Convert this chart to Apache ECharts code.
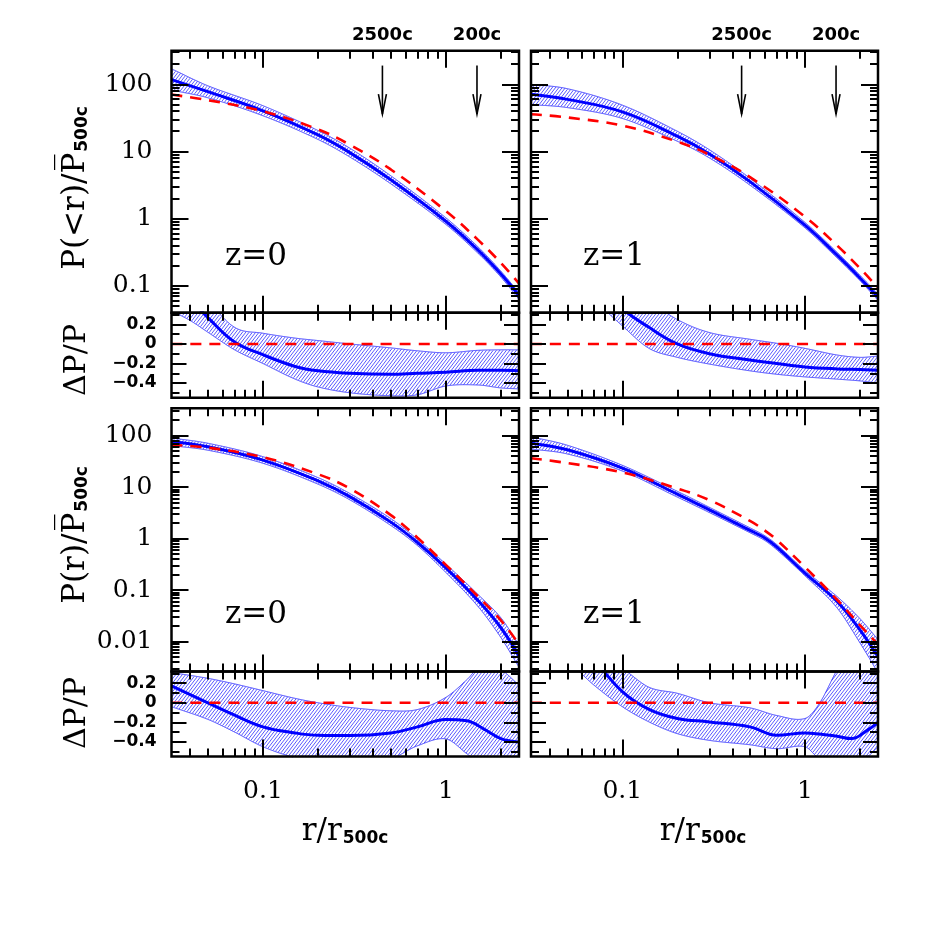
<!DOCTYPE html>
<html>
<head>
<meta charset="utf-8">
<script src="https://cdn.jsdelivr.net/npm/echarts@6.0.0/dist/echarts.min.js"></script>
<style>
html,body{margin:0;padding:0;background:#fff;}
#chart{width:926px;height:926px;}
</style>
</head>
<body>
<div id="chart"></div>
<script>
// ===== axis ranges =====
const xMin = 0.0316228, xMax = 2.51189;          // 10^-1.5 .. 10^0.4
const yTopMin = 0.0398107, yTopMax = 316.228;    // 10^-1.4 .. 10^2.5
const yBotMin = 0.0026303, yBotMax = 338.844;    // 10^-2.58 .. 10^2.53
const resMin = -0.55, resMax = 0.32;

// ===== tick values / labels =====
const xMajorTicks = [0.1, 1];
const xMinorTicks = [0.04, 0.05, 0.06, 0.07, 0.08, 0.09, 0.2, 0.3, 0.4, 0.5, 0.6, 0.7, 0.8, 0.9, 2];
const xTickLabels = [0.1, 1];
const yTopMajorTicks = [0.1, 1, 10, 100];
const yTopMinorTicks = [0.05, 0.06, 0.07, 0.08, 0.09, 0.2, 0.3, 0.4, 0.5, 0.6, 0.7, 0.8, 0.9,
  2, 3, 4, 5, 6, 7, 8, 9, 20, 30, 40, 50, 60, 70, 80, 90, 200, 300];
const yTopTickLabels = [0.1, 1, 10, 100];
const yBotMajorTicks = [0.01, 0.1, 1, 10, 100];
const yBotMinorTicks = [0.003, 0.004, 0.005, 0.006, 0.007, 0.008, 0.009,
  0.02, 0.03, 0.04, 0.05, 0.06, 0.07, 0.08, 0.09, 0.2, 0.3, 0.4, 0.5, 0.6, 0.7, 0.8, 0.9,
  2, 3, 4, 5, 6, 7, 8, 9, 20, 30, 40, 50, 60, 70, 80, 90, 200, 300];
const yBotTickLabels = [0.01, 0.1, 1, 10, 100];
const resMajorTicks = [-0.4, -0.2, 0, 0.2];
const resMinorTicks = [-0.5, -0.3, -0.1, 0.1, 0.3];
const resTickLabels = [-0.4, -0.2, 0, 0.2];

// ===== top-left: P(<r), z=0 =====
const tlR   = [0.0316, 0.05, 0.1, 0.2, 0.3, 0.5, 1, 1.5, 2, 2.51];
const tlSim = [117.5, 77.6, 40.3, 17.6, 9.53, 3.79, 0.916, 0.34, 0.15, 0.072];
const tlHi  = [170, 95, 48, 20.5, 11.1, 4.35, 1.03, 0.38, 0.165, 0.079];
const tlLo  = [82, 63, 34, 15.1, 8.2, 3.3, 0.82, 0.305, 0.135, 0.063];
const tlMod = [70.3, 58, 39.6, 21.3, 12.5, 5.4, 1.30, 0.483, 0.219, 0.109];
// residual
const tlResR   = [0.0316, 0.04, 0.05, 0.07, 0.1, 0.15, 0.2, 0.3, 0.5, 0.7, 1, 1.5, 2, 2.51];
const tlResSim = [0.6, 0.45, 0.27, 0.02, -0.11, -0.23, -0.275, -0.30, -0.31, -0.30, -0.29, -0.27, -0.27, -0.275];
const tlResHi  = [0.9, 0.7, 0.45, 0.17, 0.11, 0.06, 0.035, 0.0, -0.04, -0.07, -0.09, -0.065, -0.06, -0.06];
const tlResLo  = [0.34, 0.24, 0.12, -0.06, -0.2, -0.36, -0.44, -0.50, -0.53, -0.52, -0.43, -0.42, -0.45, -0.46];

// ===== top-right: P(<r), z=1 =====
const trR   = [0.0316, 0.05, 0.1, 0.2, 0.3, 0.5, 1, 1.5, 2, 2.51];
const trSim = [71, 59.6, 38.8, 16.9, 9.2, 3.56, 0.80, 0.286, 0.131, 0.068];
const trHi  = [100, 86, 49, 20, 10.6, 4.0, 0.88, 0.315, 0.144, 0.075];
const trLo  = [50, 45, 31, 14.2, 8.0, 3.15, 0.73, 0.26, 0.12, 0.061];
const trMod = [35.8, 32.1, 24.3, 14.0, 8.93, 4.15, 1.07, 0.398, 0.183, 0.093];
const trResR   = [0.0316, 0.05, 0.07, 0.1, 0.14, 0.2, 0.3, 0.5, 0.7, 1, 1.5, 2, 2.51];
const trResSim = [1.4, 1.0, 0.65, 0.36, 0.17, 0.0, -0.10, -0.165, -0.20, -0.235, -0.255, -0.262, -0.268];
const trResHi  = [1.6, 1.3, 1.0, 0.7, 0.45, 0.25, 0.117, 0.048, 0.007, -0.045, -0.113, -0.137, -0.124];
const trResLo  = [1.0, 0.7, 0.45, 0.186, -0.045, -0.137, -0.206, -0.275, -0.31, -0.337, -0.36, -0.378, -0.40];

// ===== bottom-left: P(r), z=0 =====
const blR   = [0.0316, 0.05, 0.1, 0.2, 0.3, 0.5, 0.7, 1, 1.5, 2, 2.51];
const blSim = [76, 60.7, 33.5, 13.2, 6.46, 2.09, 0.84, 0.27, 0.0625, 0.0186, 0.0052];
const blHi  = [90, 71, 39, 15.3, 7.45, 2.45, 0.97, 0.32, 0.082, 0.029, 0.0087];
const blLo  = [64, 52, 29, 11.4, 5.6, 1.8, 0.73, 0.22, 0.048, 0.012, 0.0032];
const blMod = [66, 58.3, 38, 17.8, 9.3, 2.86, 1.04, 0.31, 0.075, 0.0258, 0.0089];
const blResR   = [0.0316, 0.05, 0.07, 0.1, 0.15, 0.2, 0.3, 0.5, 0.7, 1, 1.3, 1.6, 2, 2.51];
const blResSim = [0.172, 0.0, -0.127, -0.247, -0.309, -0.333, -0.336, -0.309, -0.247, -0.172, -0.185, -0.264, -0.367, -0.402];
const blResHi  = [0.31, 0.25, 0.193, 0.124, 0.045, 0.0, -0.048, -0.082, -0.069, 0.055, 0.234, 0.4, 0.34, 0.18];
const blResLo  = [-0.04, -0.17, -0.30, -0.45, -0.56, -0.58, -0.60, -0.57, -0.44, -0.37, -0.52, -0.65, -0.7, -0.7];

// ===== bottom-right: P(r), z=1 =====
const brR   = [0.0316, 0.05, 0.1, 0.2, 0.3, 0.5, 0.6, 0.7, 1, 1.5, 2, 2.51];
const brSim = [71, 53, 23.3, 7.3, 3.6, 1.45, 1.04, 0.69, 0.213, 0.06, 0.0169, 0.0051];
const brHi  = [95, 65, 26.5, 8.3, 4.05, 1.62, 1.15, 0.77, 0.24, 0.075, 0.028, 0.011];
const brLo  = [55, 44, 20.5, 6.4, 3.2, 1.3, 0.93, 0.61, 0.19, 0.045, 0.0095, 0.0025];
const brMod = [36.4, 29.3, 19.2, 9.4, 5.6, 2.2, 1.45, 0.95, 0.28, 0.065, 0.021, 0.0088];
const brResR   = [0.0316, 0.05, 0.07, 0.1, 0.14, 0.2, 0.3, 0.5, 0.7, 1, 1.2, 1.5, 1.8, 2.2, 2.51];
const brResSim = [1.2, 0.8, 0.45, 0.113, -0.068, -0.161, -0.196, -0.247, -0.333, -0.309, -0.32, -0.343, -0.367, -0.28, -0.2];
const brResHi  = [0.9, 0.7, 0.5, 0.35, 0.159, 0.097, 0.0, -0.052, -0.13, -0.161, -0.007, 0.34, 0.6, 0.6, 0.6];
const brResLo  = [0.6, 0.42, 0.18, -0.04, -0.196, -0.316, -0.385, -0.43, -0.47, -0.45, -0.57, -0.6, -0.6, -0.55, -0.45];

// residual reference line
const resZeroR = [0.0316228, 2.51189];
const resZero  = [0, 0];

// overdensity radius markers
const arrowR      = [0.45, 1.48];
const arrowTop    = [190, 190];
const arrowBottom = [36, 36];
const arrowText   = ['2500c', '200c'];

// ===== helpers =====
const zip = (a, b) => a.map((v, i) => [v, b[i]]);
const fmtLog = v => String(v);
const fmtRes = v => (v < 0 ? '\u2212' + String(Math.abs(v)) : String(v));

// cubic Hermite (Catmull-Rom tangents) through pixel-space points, used only to draw the band outline smoothly
function hermite(xs, ys) {
  const n = xs.length, m = [];
  for (let i = 0; i < n; i++) {
    if (i === 0) m.push((ys[1] - ys[0]) / (xs[1] - xs[0]));
    else if (i === n - 1) m.push((ys[n - 1] - ys[n - 2]) / (xs[n - 1] - xs[n - 2]));
    else m.push((ys[i + 1] - ys[i - 1]) / (xs[i + 1] - xs[i - 1]));
  }
  return function (x) {
    if (x <= xs[0]) return ys[0] + m[0] * (x - xs[0]);
    if (x >= xs[n - 1]) return ys[n - 1] + m[n - 1] * (x - xs[n - 1]);
    let i = 0;
    while (i < n - 2 && x > xs[i + 1]) i++;
    const h = xs[i + 1] - xs[i], t = (x - xs[i]) / h;
    const t2 = t * t, t3 = t2 * t;
    return (2 * t3 - 3 * t2 + 1) * ys[i] + (t3 - 2 * t2 + t) * h * m[i] +
      (-2 * t3 + 3 * t2) * ys[i + 1] + (t3 - t2) * h * m[i + 1];
  };
}

const HATCH_COLOR = 'rgba(35,35,255,0.9)';
const EDGE_COLOR = '#3b3bff';
function bandRenderer(p) {
  return function (params, api) {
    if (params.dataIndex !== 0) return null;
    const cs = params.coordSys;
    const xs = [], yl = [], yh = [];
    for (let i = 0; i < p.r.length; i++) {
      const a = api.coord([p.r[i], p.lo[i]]);
      const b = api.coord([p.r[i], p.hi[i]]);
      xs.push(a[0]); yl.push(a[1]); yh.push(b[1]);
    }
    const fLo = hermite(xs, yl), fHi = hermite(xs, yh);
    const step = 0.5, top = cs.y, bot = cs.y + cs.height;
    const sx = [], sLo = [], sHi = [];
    for (let x = cs.x; x <= cs.x + cs.width + 1e-6; x += step) {
      sx.push(x); sLo.push(fLo(x)); sHi.push(fHi(x));
    }
    const children = [];
    // hatch lines "/" : y = c - k (x - x0)
    const k = 1.3, gap = 4.3;
    for (let c = top; c <= bot + k * cs.width + gap; c += gap) {
      let start = -1;
      for (let j = 0; j <= sx.length; j++) {
        let inside = false;
        if (j < sx.length) {
          const y = c - k * (sx[j] - cs.x);
          inside = y >= Math.max(sHi[j], top) && y <= Math.min(sLo[j], bot);
        }
        if (inside && start < 0) start = j;
        if (!inside && start >= 0) {
          const e = j - 1;
          children.push({ type: 'line', silent: true,
            shape: { x1: sx[start], y1: c - k * (sx[start] - cs.x), x2: sx[e], y2: c - k * (sx[e] - cs.x) },
            style: { stroke: HATCH_COLOR, lineWidth: 0.85 } });
          start = -1;
        }
      }
    }
    // band edges, clipped to the panel
    [sHi, sLo].forEach(arr => {
      let pts = [];
      for (let j = 0; j <= sx.length; j++) {
        const ok = j < sx.length && arr[j] >= top - 0.5 && arr[j] <= bot + 0.5;
        if (ok) pts.push([sx[j], arr[j]]);
        else if (pts.length) {
          if (pts.length > 1) children.push({ type: 'polyline', silent: true, shape: { points: pts },
            style: { stroke: EDGE_COLOR, lineWidth: 1, fill: null } });
          pts = [];
        }
      }
    });
    return { type: 'group', children: children };
  };
}

const serifLbl = { fontFamily: 'DejaVu Serif', fontSize: 25, color: '#000' };
const resLbl = { fontFamily: 'DejaVu Sans', fontWeight: 'bold', fontSize: 17, color: '#000' };

const colL = { left: 171.5, width: 347.5 };
const colR = { left: 531, width: 347 };
const rowTop = { top: 50.7, height: 262 };
const rowTopRes = { top: 312.7, height: 85 };
const rowBot = { top: 408.3, height: 263.2 };
const rowBotRes = { top: 671.5, height: 85 };

const panels = [
  { col: colL, row: rowTop, kind: 'top', r: tlR, sim: tlSim, lo: tlLo, hi: tlHi, modR: tlR, mod: tlMod, ylab: true, xlab: false, arrows: true },
  { col: colL, row: rowTopRes, kind: 'res', r: tlResR, sim: tlResSim, lo: tlResLo, hi: tlResHi, modR: resZeroR, mod: resZero, ylab: true, xlab: false },
  { col: colR, row: rowTop, kind: 'top', r: trR, sim: trSim, lo: trLo, hi: trHi, modR: trR, mod: trMod, ylab: false, xlab: false, arrows: true },
  { col: colR, row: rowTopRes, kind: 'res', r: trResR, sim: trResSim, lo: trResLo, hi: trResHi, modR: resZeroR, mod: resZero, ylab: false, xlab: false },
  { col: colL, row: rowBot, kind: 'bot', r: blR, sim: blSim, lo: blLo, hi: blHi, modR: blR, mod: blMod, ylab: true, xlab: false },
  { col: colL, row: rowBotRes, kind: 'res', r: blResR, sim: blResSim, lo: blResLo, hi: blResHi, modR: resZeroR, mod: resZero, ylab: true, xlab: true },
  { col: colR, row: rowBot, kind: 'bot', r: brR, sim: brSim, lo: brLo, hi: brHi, modR: brR, mod: brMod, ylab: false, xlab: false },
  { col: colR, row: rowBotRes, kind: 'res', r: brResR, sim: brResSim, lo: brResLo, hi: brResHi, modR: resZeroR, mod: resZero, ylab: false, xlab: true }
];

const grid = [], xAxis = [], yAxis = [], series = [];

function xAx(g, pos, ticks, len, labels) {
  return {
    type: 'log', logBase: 10, gridIndex: g, position: pos, min: xMin, max: xMax, z: 10,
    axisLine: { show: false, onZero: false },
    axisTick: { show: true, inside: true, length: len, customValues: ticks, lineStyle: { color: '#000', width: 2 } },
    axisLabel: labels ? Object.assign({ show: true, customValues: labels, formatter: fmtLog, margin: 22 }, serifLbl) : { show: false },
    splitLine: { show: false }, minorTick: { show: false }
  };
}
function yAx(g, pos, p, ticks, len, labels) {
  const isRes = p.kind === 'res';
  const ax = {
    type: isRes ? 'value' : 'log', gridIndex: g, position: pos, z: 10,
    axisLine: { show: false, onZero: false },
    axisTick: { show: true, inside: true, length: len, customValues: ticks, lineStyle: { color: '#000', width: 2 } },
    axisLabel: { show: false },
    splitLine: { show: false }, minorTick: { show: false }
  };
  if (isRes) { ax.min = resMin; ax.max = resMax; }
  else { ax.logBase = 10; ax.min = p.kind === 'top' ? yTopMin : yBotMin; ax.max = p.kind === 'top' ? yTopMax : yBotMax; }
  if (labels) {
    ax.axisLabel = isRes
      ? Object.assign({ show: true, customValues: labels, formatter: fmtRes, margin: 15 }, resLbl)
      : Object.assign({ show: true, customValues: labels, formatter: fmtLog, margin: 19 }, serifLbl);
  }
  return ax;
}

panels.forEach((p, g) => {
  grid.push({ left: p.col.left, width: p.col.width, top: p.row.top, height: p.row.height, z: 10,
    show: true, borderColor: '#000', borderWidth: 2.5, backgroundColor: 'transparent' });
  const xi = g * 4, yi = g * 4;
  xAxis.push(xAx(g, 'bottom', xMajorTicks, 17, p.xlab ? xTickLabels : null));
  xAxis.push(xAx(g, 'bottom', xMinorTicks, 8, null));
  xAxis.push(xAx(g, 'top', xMajorTicks, 17, null));
  xAxis.push(xAx(g, 'top', xMinorTicks, 8, null));
  let maj, mnr, lab, lmaj, lmin;
  if (p.kind === 'res') { maj = resMajorTicks; mnr = resMinorTicks; lab = resTickLabels; lmaj = 15; lmin = 8; }
  else if (p.kind === 'top') { maj = yTopMajorTicks; mnr = yTopMinorTicks; lab = yTopTickLabels; lmaj = 17; lmin = 8; }
  else { maj = yBotMajorTicks; mnr = yBotMinorTicks; lab = yBotTickLabels; lmaj = 17; lmin = 8; }
  yAxis.push(yAx(g, 'left', p, maj, lmaj, p.ylab ? lab : null));
  yAxis.push(yAx(g, 'left', p, mnr, lmin, null));
  yAxis.push(yAx(g, 'right', p, maj, lmaj, null));
  yAxis.push(yAx(g, 'right', p, mnr, lmin, null));

  // hatched scatter band
  series.push({
    type: 'custom', xAxisIndex: xi, yAxisIndex: yi, silent: true, z: 2,
    data: p.r.map((r, i) => [r, p.lo[i], p.hi[i]]),
    renderItem: bandRenderer(p)
  });
  const common = { type: 'line', xAxisIndex: xi, yAxisIndex: yi, symbol: 'none', silent: true, smooth: 0.4 };
  series.push(Object.assign({}, common, {
    data: zip(p.r, p.sim), lineStyle: { color: '#0000ff', width: 3 }, z: 3
  }));
  series.push(Object.assign({}, common, {
    data: zip(p.modR, p.mod), lineStyle: { color: '#ff0000', width: 2.6, type: [11, 8] }, z: 4
  }));
  if (p.arrows) {
    series.push({
      type: 'custom', xAxisIndex: xi, yAxisIndex: yi, silent: true, z: 5,
      data: arrowR.map((r, i) => [r, arrowTop[i], arrowBottom[i]]),
      renderItem: function (params, api) {
        const t = api.coord([api.value(0), api.value(1)]);
        const b = api.coord([api.value(0), api.value(2)]);
        const cs = params.coordSys;
        return {
          type: 'group', children: [
            { type: 'line', shape: { x1: t[0], y1: t[1], x2: b[0], y2: b[1] }, style: { stroke: '#000', lineWidth: 1.6 } },
            { type: 'polyline', shape: { points: [[b[0] - 4, b[1] - 20], [b[0], b[1]], [b[0] + 4, b[1] - 20]] },
              style: { stroke: '#000', lineWidth: 1.6, fill: null } },
            { type: 'text', style: { text: arrowText[params.dataIndex], x: t[0], y: cs.y - 15,
              align: 'center', verticalAlign: 'middle', font: 'bold 18px "DejaVu Sans"', fill: '#000' } }
          ]
        };
      }
    });
  }
});

// ===== text annotations =====
const titleRich = {
  a: { fontFamily: 'DejaVu Serif', fontSize: 31, lineHeight: 31, verticalAlign: 'top', fill: '#000' },
  b: { fontFamily: 'DejaVu Sans', fontWeight: 'bold', fontSize: 17, lineHeight: 18, padding: [22, 0, 0, 1], verticalAlign: 'bottom', fill: '#000' }
};
const graphic = [
  { type: 'text', x: 76, y: 188, rotation: Math.PI / 2, silent: true, z: 100,
    style: { text: '{a|P(<r)/P\u0305}{b|500c}', rich: titleRich, align: 'center', verticalAlign: 'middle' } },
  { type: 'text', x: 77, y: 360, rotation: Math.PI / 2, silent: true, z: 100,
    style: { text: '\u0394P/P', align: 'center', verticalAlign: 'middle', font: '30px "DejaVu Serif"', fill: '#000' } },
  { type: 'text', x: 76, y: 535, rotation: Math.PI / 2, silent: true, z: 100,
    style: { text: '{a|P(r)/P\u0305}{b|500c}', rich: titleRich, align: 'center', verticalAlign: 'middle' } },
  { type: 'text', x: 77, y: 713, rotation: Math.PI / 2, silent: true, z: 100,
    style: { text: '\u0394P/P', align: 'center', verticalAlign: 'middle', font: '30px "DejaVu Serif"', fill: '#000' } },
  { type: 'text', x: 345, y: 832, silent: true, z: 100,
    style: { text: '{a|r/r}{b|500c}', rich: titleRich, align: 'center', verticalAlign: 'middle' } },
  { type: 'text', x: 703, y: 832, silent: true, z: 100,
    style: { text: '{a|r/r}{b|500c}', rich: titleRich, align: 'center', verticalAlign: 'middle' } },
  { type: 'text', x: 225, y: 257, silent: true, z: 100, style: { text: 'z=0', font: '31px "DejaVu Serif"', fill: '#000', align: 'left', verticalAlign: 'middle' } },
  { type: 'text', x: 583, y: 257, silent: true, z: 100, style: { text: 'z=1', font: '31px "DejaVu Serif"', fill: '#000', align: 'left', verticalAlign: 'middle' } },
  { type: 'text', x: 225, y: 615, silent: true, z: 100, style: { text: 'z=0', font: '31px "DejaVu Serif"', fill: '#000', align: 'left', verticalAlign: 'middle' } },
  { type: 'text', x: 583, y: 615, silent: true, z: 100, style: { text: 'z=1', font: '31px "DejaVu Serif"', fill: '#000', align: 'left', verticalAlign: 'middle' } }
];

const chart = echarts.init(document.getElementById('chart'), null, { renderer: 'canvas' });
chart.setOption({
  animation: false,
  backgroundColor: '#fff',
  grid: grid, xAxis: xAxis, yAxis: yAxis, series: series, graphic: graphic
});
</script>
</body>
</html>
